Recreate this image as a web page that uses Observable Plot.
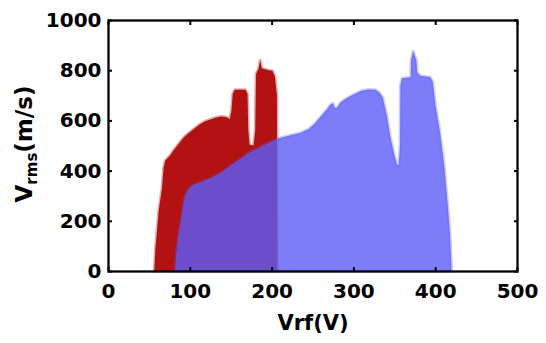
<!DOCTYPE html>
<html><head><meta charset="utf-8">
<script src="https://cdn.jsdelivr.net/npm/d3@7"></script>
<script src="https://cdn.jsdelivr.net/npm/@observablehq/plot@0.6"></script>
<style>body{margin:0;background:#fff} #chart{width:546px;height:343px}</style>
</head><body><div id="chart"></div>
<script>
// Upper envelope of the red point cloud (Vrf in V, Vrms in m/s)
const redVrf  = [56.5, 58, 62, 66, 68, 70, 76, 80, 86, 92, 98, 105, 112, 118, 125, 132, 138, 144, 149, 151, 152.5, 155, 168, 170.5, 171.5, 173, 178, 180, 181, 184, 186, 188, 196, 201, 204, 206.5, 207];
const redVrms = [0, 90, 240, 330, 410, 440, 460, 480, 505, 530, 548, 566, 584, 596, 604, 612, 616, 614, 606, 640, 705, 722, 722, 705, 560, 503, 500, 560, 785, 805, 840, 808, 800, 798, 775, 700, 0];
// Upper envelope of the blue point cloud
const blueVrf  = [82, 84, 86, 90, 94, 98, 103, 110, 121, 131, 141, 150, 161, 172, 182, 190, 198, 208, 222, 235, 245, 252, 260, 268, 272, 275, 277, 280, 284, 290, 300, 310, 318, 327, 332, 336, 341, 345, 349.5, 353, 355.5, 357, 357.5, 359.5, 370, 370.5, 373, 377, 378, 382, 394, 397, 400.5, 406, 411, 415.5, 418, 419.5, 420];
const blueVrms = [0, 80, 136, 216, 296, 323, 340, 350, 363, 378, 396, 420, 443, 470, 485, 500, 512, 528, 540, 550, 565, 585, 615, 645, 663, 668, 650, 650, 670, 685, 703, 718, 723, 722, 710, 690, 616, 536, 470, 425, 420, 500, 740, 768, 772, 840, 876, 840, 790, 778, 772, 755, 656, 550, 420, 256, 150, 50, 0];
const xTicks = [0, 100, 200, 300, 400, 500];
const yTicks = [0, 200, 400, 600, 800, 1000];
const xTitle = "Vrf(V)";
const yTitleMain = "V", yTitleSub = "rms", yTitleUnit = "(m/s)";

const red = redVrf.map((x, i) => ({x, y: redVrms[i]}));
const blue = blueVrf.map((x, i) => ({x, y: blueVrms[i]}));
const RED = "#b21212", BLUE = "rgb(92,92,249)";
const noText = () => "";
const plain = d => String(d);

const plot = Plot.plot({
  width: 546, height: 343,
  marginLeft: 108, marginRight: 29, marginTop: 20, marginBottom: 72,
  style: {fontFamily: "DejaVu Sans", fontWeight: "bold", fontSize: "20px", color: "#000", background: "#fff"},
  x: {domain: [0, 500]},
  y: {domain: [0, 1000]},
  marks: [
    Plot.areaY(red, {x: "x", y: "y", fill: RED, stroke: RED, strokeOpacity: 0.35, strokeWidth: 3, strokeLinejoin: "round"}),
    Plot.areaY(blue, {x: "x", y: "y", fill: BLUE, fillOpacity: 0.8, stroke: BLUE, strokeOpacity: 0.3, strokeWidth: 3, strokeLinejoin: "round"}),
    Plot.axisX(xTicks, {anchor: "bottom", tickSize: 0, tickPadding: 12, label: null, fontSize: 20, tickFormat: plain}),
    Plot.axisY(yTicks, {anchor: "left", tickSize: 0, tickPadding: 7, label: null, fontSize: 20, tickFormat: plain}),
    Plot.axisX(xTicks, {anchor: "bottom", tickSize: -4, tickFormat: noText, label: null, strokeWidth: 2}),
    Plot.axisX(xTicks, {anchor: "top", tickSize: -4, tickFormat: noText, label: null, strokeWidth: 2}),
    Plot.axisY(yTicks, {anchor: "left", tickSize: -4, tickFormat: noText, label: null, strokeWidth: 2}),
    Plot.axisY(yTicks, {anchor: "right", tickSize: -4, tickFormat: noText, label: null, strokeWidth: 2}),
    Plot.frame({stroke: "#000", strokeWidth: 2.3}),
    Plot.text([xTitle], {frameAnchor: "bottom", dy: 58, fontSize: 21, fontWeight: "bold"})
  ]
});
document.getElementById("chart").appendChild(plot);

const svg = d3.select(plot);
const t = svg.append("text")
  .attr("transform", "translate(32,144) rotate(-90)")
  .attr("text-anchor", "middle")
  .attr("font-family", "DejaVu Sans")
  .attr("font-weight", "bold")
  .attr("font-size", 23)
  .attr("fill", "#000");
t.append("tspan").text(yTitleMain);
t.append("tspan").attr("font-size", 15).attr("dy", 5).text(yTitleSub);
t.append("tspan").attr("dy", -5).text(yTitleUnit);
</script>
</body></html>
